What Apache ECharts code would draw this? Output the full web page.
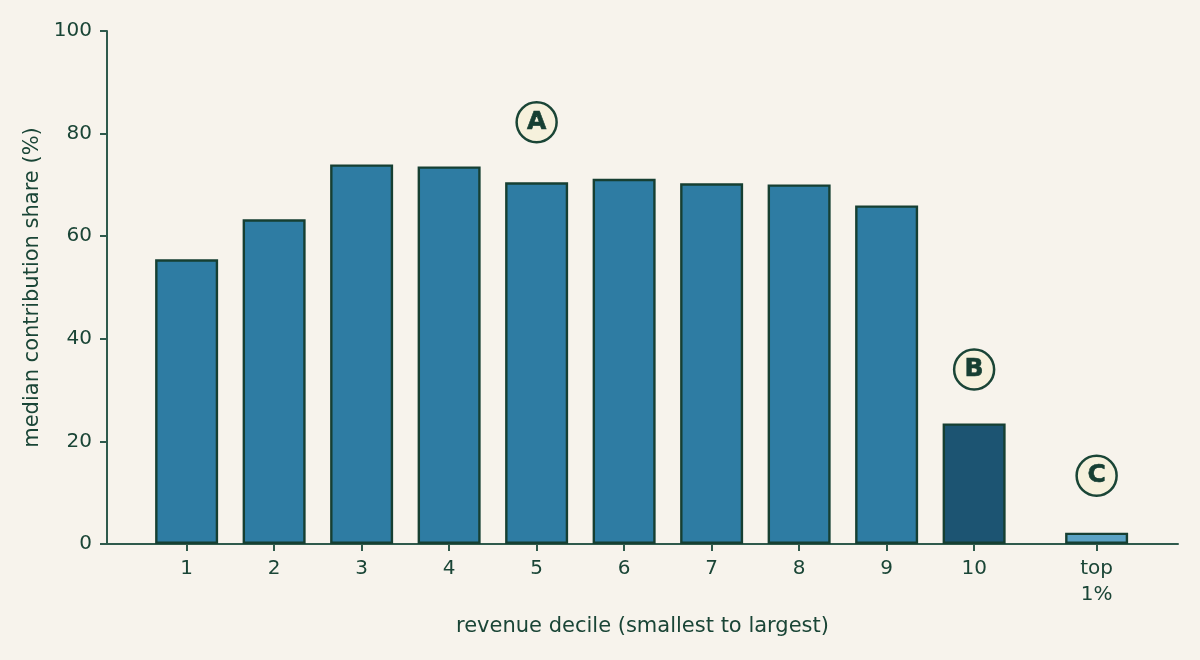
<!DOCTYPE html>
<html>
<head>
<meta charset="utf-8">
<script src="https://cdn.jsdelivr.net/npm/echarts@6/dist/echarts.min.js"></script>
<style>
  html, body { margin: 0; padding: 0; background: #f7f3ec; }
  #chart { width: 1200px; height: 660px; }
</style>
</head>
<body>
<div id="chart"></div>
<script>
// bar positions on the x scale (gap before the top 1% bar)
const xPositions = [1, 2, 3, 4, 5, 6, 7, 8, 9, 10, 11.4];
const xLabels = ['1', '2', '3', '4', '5', '6', '7', '8', '9', '10', 'top\n1%'];
const shares = [55.5, 63.3, 74.0, 73.6, 70.5, 71.2, 70.3, 70.1, 66.0, 23.5, 2.2];
const barColors = ['#2e7ca3', '#2e7ca3', '#2e7ca3', '#2e7ca3', '#2e7ca3', '#2e7ca3',
  '#2e7ca3', '#2e7ca3', '#2e7ca3', '#1c5472', '#5ba2c4'];

const markerLabels = ['A', 'B', 'C'];
const markerX = [5, 10, 11.4];
const markerY = [82.2, 34.0, 13.3];

const ink = '#1a4536';
const axisInk = '#2f5a4c';
const font = 'DejaVu Sans';

const chart = echarts.init(document.getElementById('chart'));

chart.setOption({
  backgroundColor: '#f7f3ec',
  animation: false,
  textStyle: { fontFamily: font, color: ink },
  grid: { left: 107, right: 22, top: 31, bottom: 116 },
  xAxis: {
    type: 'value',
    min: 0.09,
    max: 12.33,
    name: 'revenue decile (smallest to largest)',
    nameLocation: 'middle',
    nameGap: 72,
    nameTextStyle: { fontFamily: font, fontSize: 21, color: ink },
    splitLine: { show: false },
    axisLine: { lineStyle: { color: axisInk, width: 2 } },
    axisTick: { show: true, customValues: xPositions, length: 7, lineStyle: { color: axisInk, width: 2 } },
    axisLabel: {
      customValues: xPositions,
      fontFamily: font,
      fontSize: 20,
      color: ink,
      margin: 12,
      lineHeight: 26,
      formatter: v => xLabels[xPositions.indexOf(v)] ?? ''
    }
  },
  yAxis: {
    type: 'value',
    min: 0,
    max: 100,
    interval: 20,
    name: 'median contribution share (%)',
    nameLocation: 'middle',
    nameGap: 64,
    nameTextStyle: { fontFamily: font, fontSize: 21, color: ink },
    splitLine: { show: false },
    axisLine: { show: true, lineStyle: { color: axisInk, width: 2 } },
    axisTick: { show: true, length: 7, lineStyle: { color: axisInk, width: 2 } },
    axisLabel: { fontFamily: font, fontSize: 20, color: ink, margin: 15 }
  },
  series: [
    {
      type: 'bar',
      barWidth: 63,
      data: shares.map((v, i) => ({
        value: [xPositions[i], v],
        itemStyle: { color: barColors[i], borderColor: '#163f32', borderWidth: 2.4 }
      }))
    },
    {
      type: 'scatter',
      symbol: 'circle',
      symbolSize: 40,
      itemStyle: { color: '#f6f1dc', borderColor: '#1a4536', borderWidth: 2.5, opacity: 1 },
      label: {
        show: true,
        position: 'inside',
        formatter: p => markerLabels[p.dataIndex],
        fontFamily: font,
        fontWeight: 'bold',
        fontSize: 25,
        color: '#163f32',
        textBorderColor: '#163f32',
        textBorderWidth: 0.6
      },
      data: markerX.map((x, i) => [x, markerY[i]])
    }
  ]
});
</script>
</body>
</html>
